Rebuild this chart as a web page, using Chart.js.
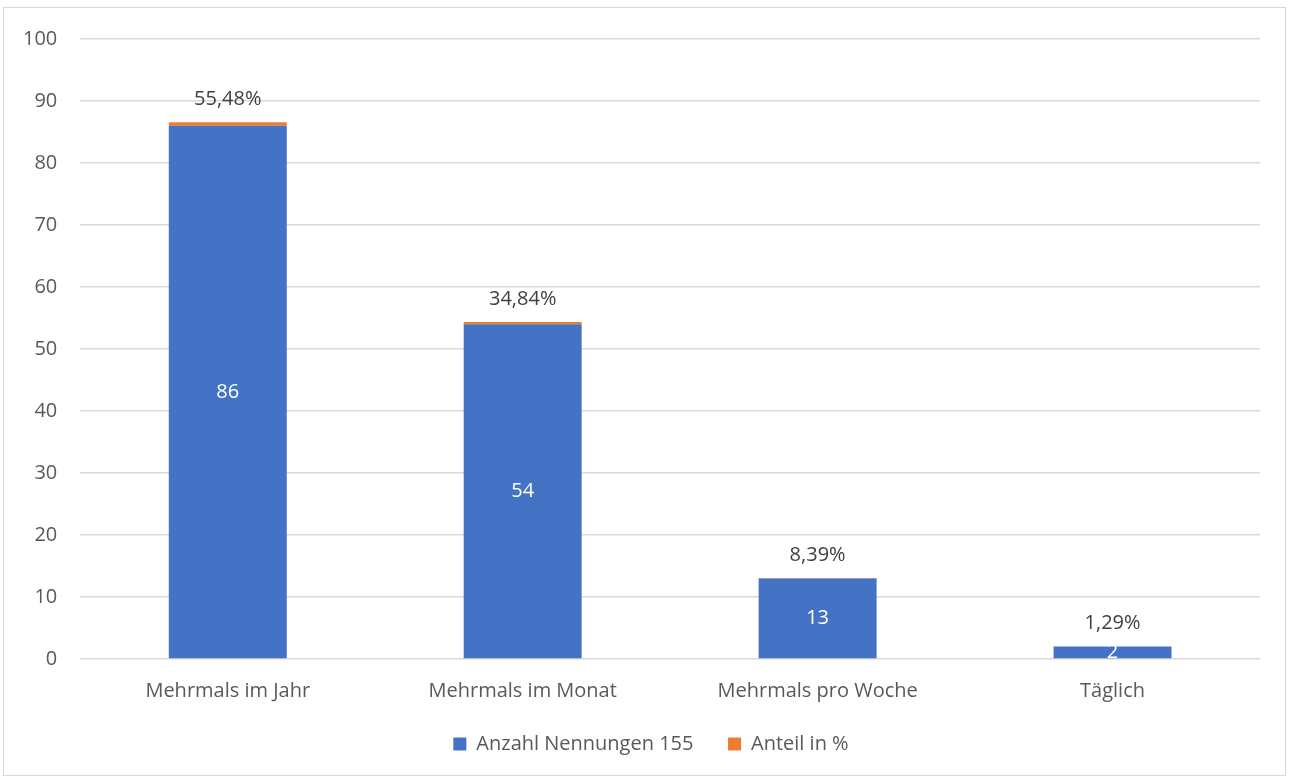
<!DOCTYPE html>
<html>
<head>
<meta charset="utf-8">
<script src="https://cdn.jsdelivr.net/npm/chart.js@4"></script>
<style>
  html, body { margin: 0; padding: 0; background: #fff; }
  #wrap { position: absolute; left: 0; top: 0; width: 1290px; height: 778px; }
</style>
</head>
<body>
<div id="wrap"><canvas id="chart" width="1290" height="778"></canvas></div>
<script>
const categories = ['Mehrmals im Jahr', 'Mehrmals im Monat', 'Mehrmals pro Woche', 'Täglich'];
const counts = [86, 54, 13, 2];
const shares = [0.5548, 0.3484, 0.0839, 0.0129];
const seriesNames = ['Anzahl Nennungen 155', 'Anteil in %'];
const yMax = 100;
const yStep = 10;

const FONT = '"Open Sans", sans-serif';
const TEXT = '#595959';

function formatShare(v) {
  return (v * 100).toFixed(2).replace('.', ',') + '%';
}

// outer frame, like the office chart border
const framePlugin = {
  id: 'frame',
  beforeDraw(chart) {
    const c = chart.ctx;
    c.save();
    c.fillStyle = '#fff';
    c.fillRect(0, 0, chart.width, chart.height);
    c.strokeStyle = '#d9d9d9';
    c.lineWidth = 1;
    c.strokeRect(3.5, 7.5, 1282, 768);
    c.restore();
  }
};

// centre the legend on the whole frame rather than the padded area
const legendShift = {
  id: 'legendShift',
  afterLayout(chart) {
    if (chart.legend) {
      chart.legend.left += 21;
      chart.legend.right += 21;
    }
  }
};

// value labels: counts inside the blue bars, shares above the stack
const labelPlugin = {
  id: 'labels',
  afterDatasetsDraw(chart) {
    const c = chart.ctx;
    c.save();
    c.font = '20px ' + FONT;
    c.textAlign = 'center';
    c.textBaseline = 'middle';
    const blue = chart.getDatasetMeta(0).data;
    const orange = chart.getDatasetMeta(1).data;
    blue.forEach((bar, i) => {
      c.fillStyle = '#fff';
      c.fillText(String(counts[i]), bar.x, (bar.y + bar.base) / 2);
    });
    orange.forEach((bar, i) => {
      c.fillStyle = '#404040';
      c.fillText(formatShare(shares[i]), bar.x, bar.y - 23);
    });
    c.restore();
  }
};

new Chart(document.getElementById('chart').getContext('2d'), {
  type: 'bar',
  data: {
    labels: categories,
    datasets: [
      { label: seriesNames[0], data: counts, backgroundColor: '#4472C4' },
      { label: seriesNames[1], data: shares, backgroundColor: '#ED7D31' }
    ]
  },
  options: {
    responsive: false,
    animation: false,
    layout: { padding: { left: 0, right: 30, top: 39, bottom: 14 } },
    datasets: { bar: { barPercentage: 0.4, categoryPercentage: 1 } },
    plugins: {
      tooltip: { enabled: false },
      legend: {
        position: 'bottom',
        labels: {
          boxWidth: 13, boxHeight: 13, padding: 19,
          color: TEXT, font: { family: FONT, size: 20 },
          generateLabels(chart) {
            // trailing spaces widen the gap between the two entries
            return Chart.defaults.plugins.legend.labels.generateLabels(chart).map((item, i) => {
              if (i === 0) item.text = item.text + '   ';
              return item;
            });
          }
        }
      }
    },
    scales: {
      x: {
        stacked: true,
        grid: { display: false },
        border: { display: false },
        ticks: { color: TEXT, padding: 12, font: { family: FONT, size: 20 } }
      },
      y: {
        stacked: true,
        min: 0, max: yMax,
        grid: { color: '#d9d9d9', lineWidth: 1.5, drawTicks: false },
        border: { display: false },
        ticks: { stepSize: yStep, color: TEXT, padding: 23, font: { family: FONT, size: 20 } }
      }
    }
  },
  plugins: [framePlugin, legendShift, labelPlugin]
});
</script>
</body>
</html>
